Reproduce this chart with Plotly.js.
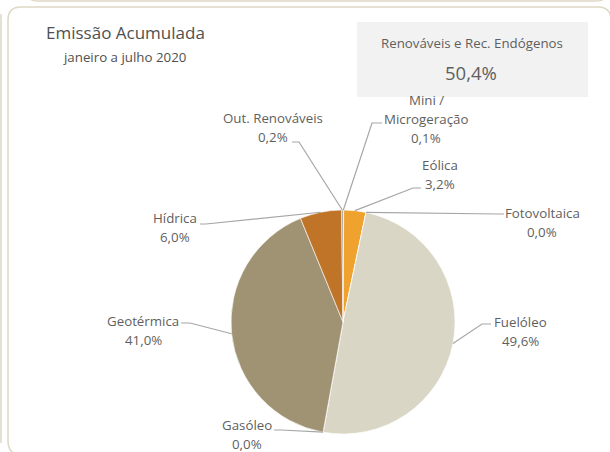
<!DOCTYPE html>
<html>
<head>
<meta charset="utf-8">
<script src="https://cdn.plot.ly/plotly-3.0.1.min.js"></script>
<style>
  html, body { margin: 0; padding: 0; background: #ffffff; }
  #chart { width: 610px; height: 452px; }
</style>
</head>
<body>
<div id="chart"></div>
<script>
// ---- data ----
const categories = ['Mini / Microgeração', 'Eólica', 'Fotovoltaica', 'Fuelóleo', 'Gasóleo', 'Geotérmica', 'Hídrica', 'Out. Renováveis'];
const labelLines = [['Mini /', 'Microgeração'], ['Eólica'], ['Fotovoltaica'], ['Fuelóleo'], ['Gasóleo'], ['Geotérmica'], ['Hídrica'], ['Out. Renováveis']];
const values = [0.1, 3.2, 0.0, 49.6, 0.0, 41.0, 6.0, 0.2];
const renewableShare = 50.4;
const chartTitle = 'Emissão Acumulada';
const chartSubtitle = 'janeiro a julho 2020';
const boxTitle = 'Renováveis e Rec. Endógenos';

// ---- styles / layout positions ----
const colors = ['#808080', '#f0a22f', '#e8c23a', '#d9d6c6', '#8c8c8c', '#a09373', '#c07428', '#7f7f7f'];
const W = 610, H = 452;
const cx = 343, cy = 322, R = 112;
// label first-line position (px) and leader points (text end, elbow) (px)
const labelPos = [
  {x: 426, y: 100, lead: [[382, 123], [372, 123]]},
  {x: 440, y: 165, lead: [[421, 188], [413, 188]]},
  {x: 542, y: 213, lead: [[504, 214], [499, 214]]},
  {x: 520, y: 322, lead: [[491, 324], [482, 324]]},
  {x: 247, y: 425, lead: [[274, 430], [281, 430]]},
  {x: 143, y: 321, lead: [[181, 323], [190, 323]]},
  {x: 175, y: 218, lead: [[200, 224], [206, 224]]},
  {x: 273, y: 118, lead: [[292, 142], [299, 142]]}
];
const lineGap = 19;
const txtColor = '#5f5f5f';
const font = 'Open Sans, Noto Sans, sans-serif';

const px = x => x / W;
const py = y => 1 - y / H;
const fmt = v => v.toFixed(1).replace('.', ',') + '%';

const total = values.reduce((a, b) => a + b, 0);

const annotations = [];
const shapes = [];

// panel frames
const frame = 'rgb(222,216,196)';
shapes.push({type: 'path', xref: 'paper', yref: 'paper',
  path: `M ${px(22)} ${py(455)} Q ${px(8)} ${py(455)} ${px(8)} ${py(441)} L ${px(8)} ${py(20)} Q ${px(8)} ${py(7)} ${px(21)} ${py(7)} L ${px(598)} ${py(7)} Q ${px(611)} ${py(7)} ${px(611)} ${py(20)} L ${px(611)} ${py(470)}`,
  line: {color: frame, width: 1.5}});
shapes.push({type: 'path', xref: 'paper', yref: 'paper',
  path: `M ${px(25)} ${py(-10)} Q ${px(26)} ${py(1)} ${px(38)} ${py(1)} L ${px(596)} ${py(1)} Q ${px(608)} ${py(1)} ${px(609)} ${py(-10)}`,
  line: {color: frame, width: 1.5}});
shapes.push({type: 'line', xref: 'paper', yref: 'paper',
  x0: px(1), x1: px(1), y0: py(14), y1: py(443), line: {color: frame, width: 1.5}});
// info box
shapes.push({type: 'rect', xref: 'paper', yref: 'paper', layer: 'below',
  x0: px(357), x1: px(588), y0: py(22), y1: py(97), fillcolor: '#f2f2f2', line: {width: 0}});

// labels & leader lines
let cum = 0;
values.forEach((v, i) => {
  const mid = (cum + v / 2) / total * 2 * Math.PI;
  cum += v;
  const ex = cx + R * Math.sin(mid);
  const ey = cy - R * Math.cos(mid);
  const p = labelPos[i];
  const lines = labelLines[i].concat([fmt(v)]);
  lines.forEach((t, k) => {
    annotations.push({xref: 'paper', yref: 'paper', x: px(p.x), y: py(p.y + k * lineGap),
      text: t, showarrow: false, xanchor: 'center', yanchor: 'middle',
      font: {family: font, size: 13.3, color: txtColor}});
  });
  const [a, b] = p.lead;
  shapes.push({type: 'path', xref: 'paper', yref: 'paper',
    path: `M ${px(a[0])} ${py(a[1])} L ${px(b[0])} ${py(b[1])} L ${px(ex)} ${py(ey)}`,
    line: {color: '#a6a6a6', width: 1.2}});
});

// titles
annotations.push({xref: 'paper', yref: 'paper', x: px(44), y: py(33), xanchor: 'left', yanchor: 'middle',
  text: chartTitle, showarrow: false, font: {family: font, size: 17, color: '#505050'}});
annotations.push({xref: 'paper', yref: 'paper', x: px(61), y: py(57), xanchor: 'left', yanchor: 'middle',
  text: chartSubtitle, showarrow: false, font: {family: font, size: 13.3, color: '#505050'}});
annotations.push({xref: 'paper', yref: 'paper', x: px(472), y: py(43), xanchor: 'center', yanchor: 'middle',
  text: boxTitle, showarrow: false, font: {family: font, size: 13.3, color: txtColor}});
annotations.push({xref: 'paper', yref: 'paper', x: px(471), y: py(72), xanchor: 'center', yanchor: 'middle',
  text: fmt(renewableShare), showarrow: false, font: {family: font, size: 18.5, color: txtColor}});

const trace = {
  type: 'pie',
  labels: categories,
  values: values,
  sort: false,
  direction: 'clockwise',
  rotation: 0,
  textinfo: 'none',
  hoverinfo: 'label+percent',
  marker: {colors: colors, line: {color: '#ffffff', width: 0.6}},
  domain: {x: [px(cx - R), px(cx + R)], y: [py(cy + R), py(cy - R)]},
  showlegend: false
};

Plotly.newPlot('chart', [trace], {
  width: W, height: H,
  margin: {l: 0, r: 0, t: 0, b: 0},
  paper_bgcolor: '#ffffff',
  showlegend: false,
  shapes: shapes,
  annotations: annotations
}, {displayModeBar: false, staticPlot: true});
</script>
</body>
</html>
